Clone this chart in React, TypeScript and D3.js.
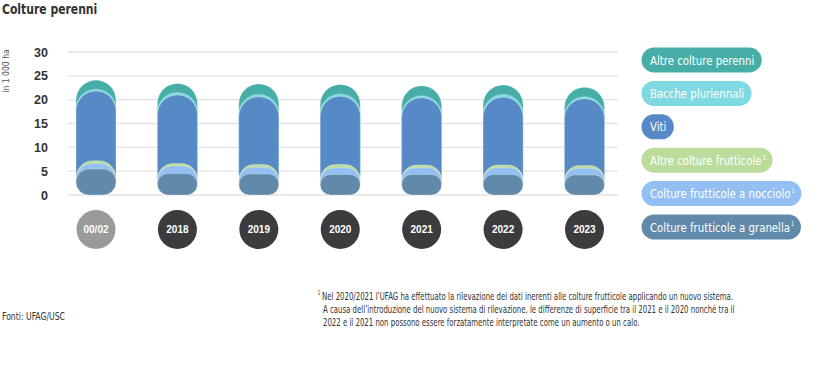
import React, { useEffect, useRef } from "react";
import * as d3 from "d3";

const categories = ["00/02", "2018", "2019", "2020", "2021", "2022", "2023"];
const granella = [5.45, 4.5, 4.4, 4.3, 4.3, 4.3, 4.2];
const nocciolo = [1.15, 1.6, 1.4, 1.4, 1.4, 1.4, 1.4];
const altreFrutticole = [0.6, 0.5, 0.6, 0.7, 0.6, 0.6, 0.6];
const viti = [14.6, 14.4, 14.2, 14.3, 14.1, 14.2, 14.0];
const bacche = [0.4, 0.5, 0.5, 0.5, 0.4, 0.6, 0.4];
const altrePerenni = [1.9, 1.9, 2.2, 2.0, 2.1, 2.0, 2.0];
const yTicks = [0, 5, 10, 15, 20, 25, 30];

const seriesNames = [
  "Colture frutticole a granella",
  "Colture frutticole a nocciolo",
  "Altre colture frutticole",
  "Viti",
  "Bacche pluriennali",
  "Altre colture perenni",
];
const seriesNote = [true, true, true, false, false, false];
const seriesValues = [granella, nocciolo, altreFrutticole, viti, bacche, altrePerenni];
const seriesColors = ["#6189aa", "#93bff2", "#bcdc9c", "#5689c5", "#7fd9e1", "#47aea7"];

const footnote = [
  "Nel 2020/2021 l’UFAG ha effettuato la rilevazione dei dati inerenti alle colture frutticole applicando un nuovo sistema.",
  "A causa dell’introduzione del nuovo sistema di rilevazione, le differenze di superficie tra il 2021 e il 2020 nonché tra il",
  "2022 e il 2021 non possono essere forzatamente interpretate come un aumento o un calo.",
];

const NARROW = "'DejaVu Sans Condensed', 'DejaVu Sans', sans-serif";
const SANS = "'Liberation Sans', Arial, sans-serif";

export default function App() {
  const ref = useRef<SVGSVGElement | null>(null);

  useEffect(() => {
    const svg = d3.select(ref.current);
    svg.selectAll("*").remove();

    const y = d3.scaleLinear().domain([0, 30]).range([195, 52]);
    const x = d3.scalePoint<string>().domain(categories).range([96, 584.5]);
    const barW = 40;

    const squeezed = (parent: any, tx: number, ty: number, s: number) =>
      parent.append("text").attr("transform", `translate(${tx},${ty}) scale(${s},1)`);

    // title
    squeezed(svg, 2, 14, 0.83).attr("font-family", NARROW)
      .attr("font-weight", "bold").attr("font-size", 14.5).attr("fill", "#333").text("Colture perenni");

    // y label
    svg.append("text").attr("transform", "translate(9,71) rotate(-90) scale(0.9,1)").attr("text-anchor", "middle")
      .attr("font-family", NARROW).attr("font-size", 9.5).attr("fill", "#555").text("in 1 000 ha");

    // grid
    const g = svg.append("g");
    g.selectAll("line.grid").data(yTicks).join("line").attr("class", "grid")
      .attr("x1", 68).attr("x2", 618).attr("y1", (d) => y(d)).attr("y2", (d) => y(d))
      .attr("stroke", "#e3e3e3").attr("stroke-width", 1.3);
    g.selectAll("text.tick").data(yTicks).join("text").attr("class", "tick")
      .attr("x", 48).attr("y", (d) => y(d)).attr("dy", "0.36em").attr("text-anchor", "end")
      .attr("font-family", SANS).attr("font-weight", "bold").attr("font-size", 12.5).attr("fill", "#333")
      .text((d) => d);

    // stacked pills
    const rows = categories.map((c, i) => {
      const o: any = { cat: c };
      seriesNames.forEach((n, k) => (o[n] = seriesValues[k][i]));
      return o;
    });
    const stack = d3.stack().keys(seriesNames)(rows);
    const pill = (x0: number, top: number, bottom: number) => {
      const h = bottom - top;
      const r = Math.min(barW / 2, h / 2);
      const p = d3.path();
      p.moveTo(x0 + r, top);
      p.lineTo(x0 + barW - r, top);
      p.arcTo(x0 + barW, top, x0 + barW, top + r, r);
      p.lineTo(x0 + barW, bottom - r);
      p.arcTo(x0 + barW, bottom, x0 + barW - r, bottom, r);
      p.lineTo(x0 + r, bottom);
      p.arcTo(x0, bottom, x0, bottom - r, r);
      p.lineTo(x0, top + r);
      p.arcTo(x0, top, x0 + r, top, r);
      p.closePath();
      return p.toString();
    };
    const bars = svg.append("g");
    for (let k = stack.length - 1; k >= 0; k--) {
      bars.append("g").selectAll("path").data(stack[k]).join("path")
        .attr("d", (d: any) => pill((x(d.data.cat) as number) - barW / 2, y(d[1]), y(0)))
        .attr("fill", seriesColors[k])
        .attr("stroke", "#ffffff").attr("stroke-opacity", 0.35).attr("stroke-width", 0.8);
    }

    // category circles
    const cg = svg.append("g").selectAll("g").data(categories).join("g")
      .attr("transform", (d) => `translate(${x(d)},229.5)`);
    cg.append("circle").attr("r", 19.5).attr("fill", (d, i) => (i === 0 ? "#9a9a9a" : "#3c3c3e"));
    cg.append("text").attr("text-anchor", "middle").attr("dy", "0.36em").attr("font-family", SANS)
      .attr("font-weight", "bold").attr("font-size", 10).attr("fill", "#fff").text((d) => d);

    // legend
    const legendOrder = [5, 4, 3, 2, 1, 0];
    const ls = 0.87;
    legendOrder.forEach((k, j) => {
      const cy = 60 + j * 33.4;
      const lg = svg.append("g");
      const rect = lg.append("rect").attr("x", 641.5).attr("y", cy - 12.5).attr("height", 25)
        .attr("rx", 12.5).attr("fill", seriesColors[k]);
      const t = squeezed(lg, 650, cy, ls).attr("dy", "0.36em")
        .attr("font-family", NARROW).attr("font-size", 13).attr("fill", "#fff").text(seriesNames[k]);
      if (seriesNote[k]) t.append("tspan").attr("font-size", 7).attr("dy", "-0.75em").attr("dx", 1).text("1");
      const w = (t.node() as SVGTextElement).getComputedTextLength() * ls;
      rect.attr("width", w + 16);
    });

    // footnote
    const fs = 0.79;
    const fn = svg.append("g").attr("font-family", NARROW).attr("font-size", 9.8).attr("fill", "#333");
    squeezed(fn, 317.5, 295, fs).attr("font-size", 6.5).text("1");
    footnote.forEach((line, i) => {
      squeezed(fn, i === 0 ? 322 : 323, 299.5 + i * 13.4, fs).text(line);
    });
    squeezed(svg, 2, 320, 0.86).attr("font-family", NARROW).attr("font-size", 10)
      .attr("fill", "#333").text("Fonti: UFAG/USC");
  }, []);

  return (
    <div style={{ position: "absolute", left: 0, top: 0 }}>
      <svg ref={ref} width={836} height={386} style={{ display: "block", background: "#fff" }} />
    </div>
  );
}
